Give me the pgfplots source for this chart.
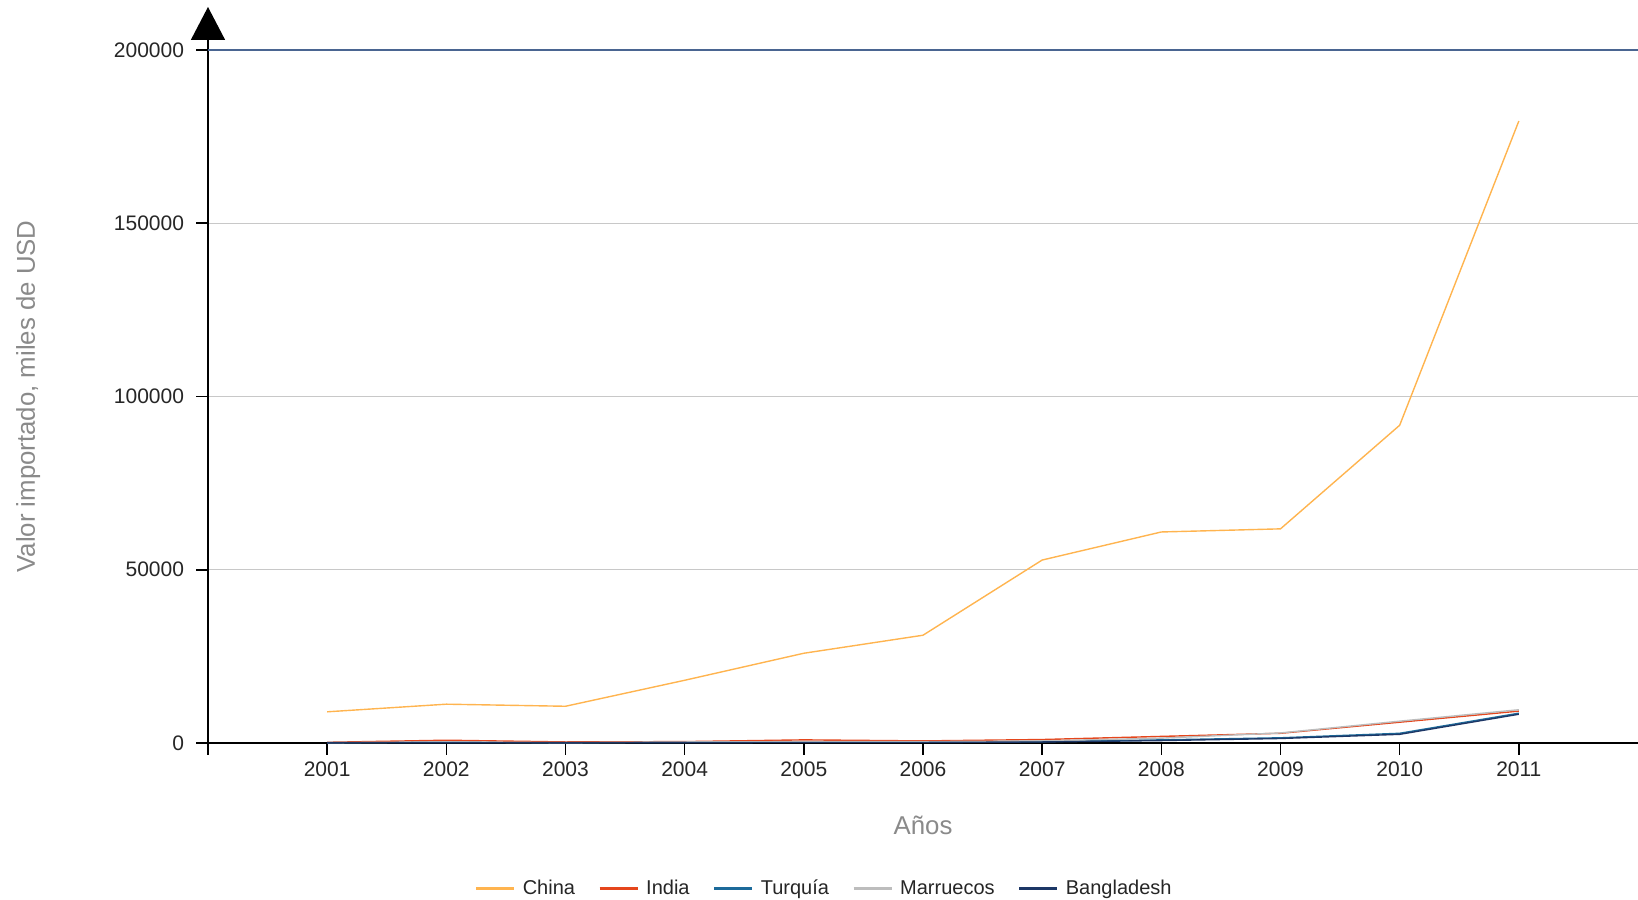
\documentclass[border=0pt]{standalone}
\usepackage{pgfplots}
\pgfplotsset{compat=1.18}
\usepackage{fontspec}
\setmainfont{Liberation Sans}
\usetikzlibrary{arrows.meta}
\definecolor{cChina}{HTML}{FFB44F}
\definecolor{cIndia}{HTML}{E5461C}
\definecolor{cTurq}{HTML}{1C6A9A}
\definecolor{cMarr}{HTML}{BDBDBD}
\definecolor{cBang}{HTML}{1D3766}
\definecolor{topline}{HTML}{4A6591}
\definecolor{gridgray}{HTML}{C8C8C8}
\definecolor{labgray}{HTML}{8A8A8A}
\begin{document}
\begin{tikzpicture}
\begin{axis}[
  scale only axis,
  width=715pt, height=346.5pt,
  xmin=2000, xmax=2012,
  ymin=0, ymax=200000,
  axis lines=left,
  x axis line style={-, black, line width=0.8pt},
  y axis line style={-{Triangle[width=17pt,length=16.5pt]}, black, line width=0.8pt, shorten >=-21.5pt},
  tick align=outside,
  major tick length=6pt,
  tick style={black, line width=0.8pt},
  xtick={2000,2001,...,2011},
  xticklabels={{},2001,2002,2003,2004,2005,2006,2007,2008,2009,2010,2011},
  ytick={0,50000,100000,150000,200000},
  yticklabels={0,50000,100000,150000,200000},
  scaled y ticks=false,
  ticklabel style={font=\fontsize{10.5}{12}\selectfont, text=black!85},
  yticklabel style={xshift=-2.5pt},
  ymajorgrids,
  major grid style={gridgray, line width=0.6pt},
  ylabel={Valor importado, miles de USD},
  xlabel={Años},
  label style={font=\fontsize{12.9}{15}\selectfont, text=labgray},
  ylabel style={at={(rel axis cs:-0.1258,0.5)}, anchor=center},
  xlabel style={at={(rel axis cs:0.5,-0.1183)}, anchor=center},
  legend columns=5,
  legend style={draw=none, at={(0.4315,-0.2105)}, anchor=center,
    font=\fontsize{10}{12}\selectfont, text=black!85,
    /tikz/every odd column/.append style={column sep=1.5pt},
    /tikz/every even column/.append style={column sep=9.5pt}},
  legend image code/.code={\draw[line width=1.6pt] (0pt,0pt) -- (19pt,0pt);},
  clip=false,
]
\addplot[cChina, line width=0.7pt] coordinates {(2001,9000)(2002,11200)(2003,10600)(2004,18100)(2005,25900)(2006,31100)(2007,52800)(2008,60900)(2009,61800)(2010,91700)(2011,179500)};
\addlegendentry{China}
\addplot[cIndia, line width=0.7pt] coordinates {(2001,200)(2002,800)(2003,300)(2004,400)(2005,900)(2006,600)(2007,1000)(2008,1900)(2009,2800)(2010,6000)(2011,9200)};
\addlegendentry{India}
\addplot[cTurq, line width=0.7pt] coordinates {(2001,100)(2002,200)(2003,100)(2004,200)(2005,300)(2006,300)(2007,400)(2008,900)(2009,1500)(2010,2800)(2011,8600)};
\addlegendentry{Turquía}
\addplot[cMarr, line width=0.7pt] coordinates {(2001,100)(2002,300)(2003,100)(2004,300)(2005,400)(2006,400)(2007,600)(2008,1400)(2009,2900)(2010,6300)(2011,9600)};
\addlegendentry{Marruecos}
\addplot[cBang, line width=0.7pt] coordinates {(2001,50)(2002,100)(2003,50)(2004,100)(2005,150)(2006,150)(2007,300)(2008,700)(2009,1300)(2010,2500)(2011,8300)};
\addlegendentry{Bangladesh}
\draw[topline, line width=0.8pt] (rel axis cs:0,1) -- (rel axis cs:1,1);
\coordinate (bl) at (rel axis cs:-0.14545,-0.22655);
\coordinate (tr) at (rel axis cs:1,1.07215);
\end{axis}
\pgfresetboundingbox
\path[use as bounding box] (bl) rectangle (tr);
\end{tikzpicture}
\end{document}
